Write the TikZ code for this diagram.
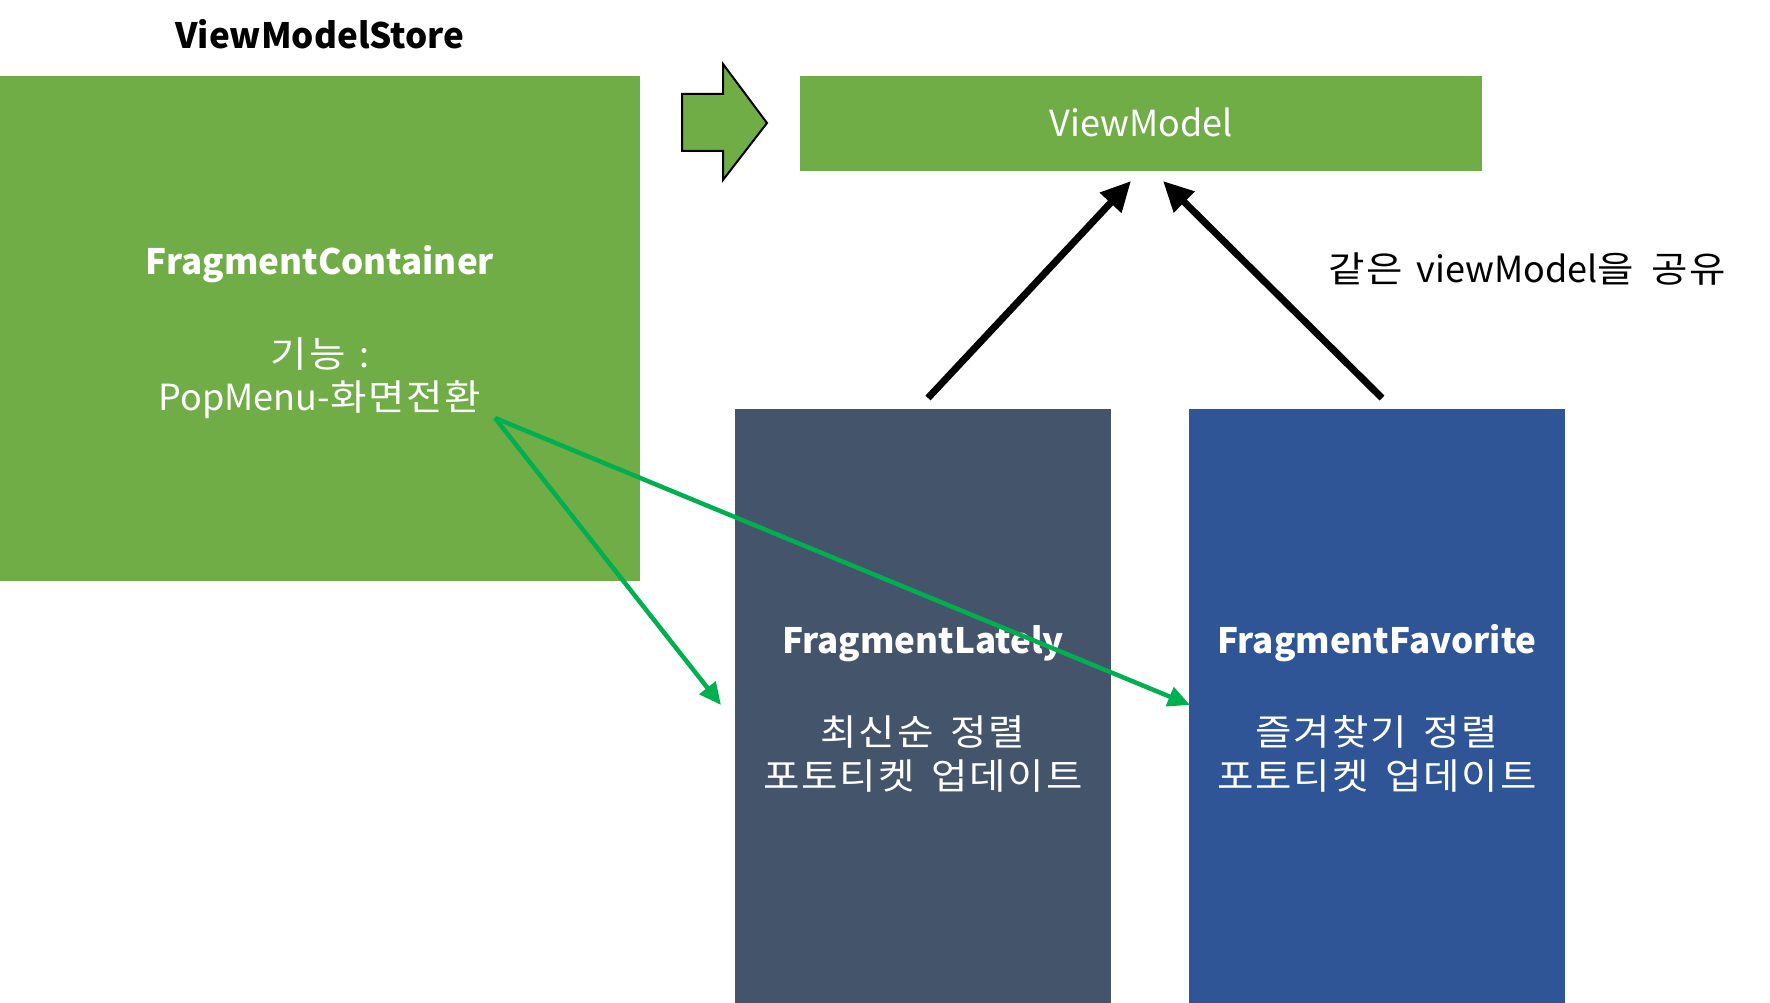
\documentclass[tikz,border=0pt]{standalone}
\usepackage{fontspec}
\setmainfont[WordSpace=1.7]{Noto Sans CJK KR}
\newfontfamily\krspaced[FakeStretch=1.1, LetterSpace=5, WordSpace=1.6]{Noto Sans CJK KR}
\usetikzlibrary{arrows.meta}
\definecolor{boxgreen}{HTML}{70AD47}
\definecolor{slate}{HTML}{44546A}
\definecolor{royal}{HTML}{2F5597}
\definecolor{arrowgreen}{HTML}{00B050}
\newcommand{\kr}[1]{{\krspaced #1}}
\tikzset{
  panel/.style={rectangle, inner sep=0pt, outer sep=0pt},
  bigtxt/.style={font=\fontsize{36}{44}\selectfont, align=center, inner sep=0pt, anchor=base},
  boldtxt/.style={font=\fontsize{35}{44}\selectfont\bfseries, inner sep=0pt, anchor=base},
  blackarrow/.style={line width=7pt, -{Triangle[length=30pt,width=28pt]}},
  greenarrow/.style={arrowgreen, line width=4.5pt, -{Triangle[length=22pt,width=20pt]}}
}
\begin{document}
\begin{tikzpicture}[x=1pt,y=-1pt]
\useasboundingbox (0,0) rectangle (1770,1003);
\fill[white] (0,0) rectangle (1770,1003);
% boxes
\node[panel, fill=boxgreen, minimum width=640pt, minimum height=505pt] (store) at (320,328.5) {};
\node[panel, fill=boxgreen, minimum width=682pt, minimum height=95pt] (vm) at (1141,123.5) {};
\node[panel, fill=slate, minimum width=376pt, minimum height=600pt] (lately) at (923,709) {};
\node[panel, fill=royal, minimum width=376pt, minimum height=600pt] (fav) at (1377,709) {};
% block arrow
\draw[fill=boxgreen, line width=2pt, line join=miter] (682,94) -- (723,94) -- (723,64) -- (767,123) -- (723,180) -- (723,151) -- (682,151) -- cycle;
% texts
\node[boldtxt, text=black] (storelbl) at (320,49) {ViewModelStore};
\node[boldtxt, text=white] (contlbl) at (320,275) {FragmentContainer};
\node[bigtxt, text=white] (contdesc1) at (320,367) {\kr{기능} :};
\node[bigtxt, text=white] (contdesc2) at (320,410) {PopMenu-\kr{화면전환}};
\node[bigtxt, text=white] (vmlbl) at (1141,137) {ViewModel};
\node[boldtxt, text=white] (latelylbl) at (923,653) {FragmentLately};
\node[bigtxt, text=white] (latelyd1) at (923,745) {\kr{최신순 정렬}};
\node[bigtxt, text=white] (latelyd2) at (923,789) {\kr{포토티켓 업데이트}};
\node[boldtxt, text=white] (favlbl) at (1377,653) {FragmentFavorite};
\node[bigtxt, text=white] (favd1) at (1377,745) {\kr{즐겨찾기 정렬}};
\node[bigtxt, text=white] (favd2) at (1377,789) {\kr{포토티켓 업데이트}};
\node[bigtxt, text=black] (share) at (1527,283) {\kr{같은} viewModel\kr{을 공유}};
% connectors
\coordinate (l1s) at (928,398);
\coordinate (l1e) at (1131,181);
\coordinate (l2s) at (1382,398);
\coordinate (l2e) at (1163,181);
\draw[blackarrow] (l1s) -- (l1e);
\draw[blackarrow] (l2s) -- (l2e);
\coordinate (gs) at (495,418);
\coordinate (g1e) at (721,705);
\coordinate (g2e) at (1190,705);
\draw[greenarrow] (gs) -- (g1e);
\draw[greenarrow] (gs) -- (g2e);
\end{tikzpicture}
\end{document}
